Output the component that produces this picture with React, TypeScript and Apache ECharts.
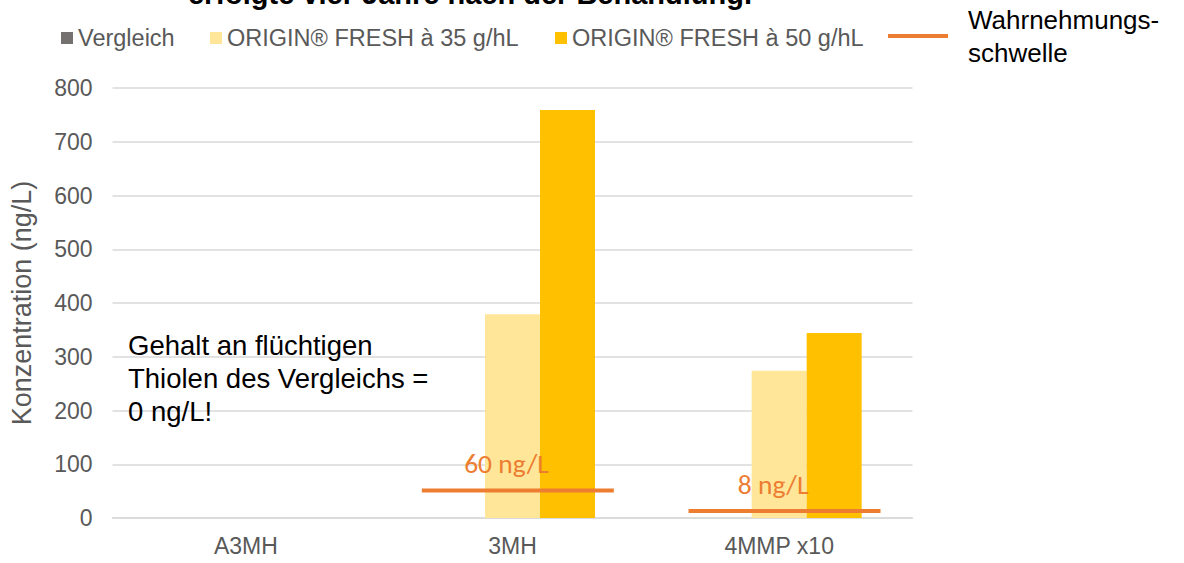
import React, { useEffect, useRef } from "react";
import * as echarts from "echarts";

const categories = ["A3MH", "3MH", "4MMP x10"];
const vergleich = [0, 0, 0];
const fresh35 = [0, 379, 274];
const fresh50 = [0, 759, 344];
const thresholdCats = [1, 2];
const thresholdValues = [51, 13];
const thresholdLabels = ["60 ng/L", "8 ng/L"];
const yTicks = { min: 0, max: 800, interval: 100 };

const ARIAL = 'Arial, "Liberation Sans", sans-serif';
const CALIBRI = 'Calibri, Carlito, "Open Sans", sans-serif';
const GREY = "#595959";

export default function App() {
  const ref = useRef<HTMLDivElement>(null);
  useEffect(() => {
    if (!ref.current) return;
    const chart = echarts.init(ref.current, undefined, { renderer: "svg" });
    const legendText = { color: GREY, fontSize: 23.5, fontFamily: ARIAL };
    const option: any = {
      animation: false,
      backgroundColor: "#ffffff",
      grid: { left: 112.5, right: 271.5, top: 88, bottom: 45, containLabel: false },
      legend: [
        {
          data: [{ name: "Vergleich", icon: "rect" }],
          left: 61, top: 26, padding: 0, itemWidth: 12, itemHeight: 12,
          textStyle: legendText, selectedMode: false,
        },
        {
          data: [{ name: "ORIGIN® FRESH à 35 g/hL", icon: "rect" }],
          left: 210, top: 26, padding: 0, itemWidth: 12, itemHeight: 12,
          textStyle: legendText, selectedMode: false,
        },
        {
          data: [{ name: "ORIGIN® FRESH à 50 g/hL", icon: "rect" }],
          left: 555, top: 26, padding: 0, itemWidth: 12, itemHeight: 12,
          textStyle: legendText, selectedMode: false,
        },
        {
          data: [{ name: "Wahrnehmungsschwelle", icon: "rect" }],
          left: 888, top: 3, padding: 0, itemWidth: 60, itemHeight: 4, itemGap: 0,
          formatter: () => "Wahrnehmungs-\nschwelle",
          textStyle: { color: "#000000", fontSize: 26, fontFamily: ARIAL, lineHeight: 33, padding: [0, 0, 0, 15] },
          selectedMode: false,
        },
      ],
      xAxis: {
        type: "category",
        data: categories,
        axisLine: { lineStyle: { color: "#D9D9D9", width: 1.5 } },
        axisTick: { show: false },
        axisLabel: { color: GREY, fontSize: 23, fontFamily: ARIAL, margin: 16 },
      },
      yAxis: {
        type: "value",
        min: yTicks.min,
        max: yTicks.max,
        interval: yTicks.interval,
        name: "Konzentration (ng/L)",
        nameLocation: "middle",
        nameGap: 77,
        nameTextStyle: { color: GREY, fontSize: 27, fontFamily: ARIAL },
        axisLine: { show: false },
        axisTick: { show: false },
        axisLabel: { color: GREY, fontSize: 23, fontFamily: ARIAL, margin: 20 },
        splitLine: { lineStyle: { color: "#D9D9D9", width: 1.5 } },
      },
      series: [
        {
          name: "Vergleich", type: "bar", data: vergleich, barWidth: 55, barGap: "0%",
          itemStyle: { color: "#767171" },
        },
        {
          name: "ORIGIN® FRESH à 35 g/hL", type: "bar", data: fresh35, barWidth: 55, barGap: "0%",
          itemStyle: { color: "#FFE699" },
        },
        {
          name: "ORIGIN® FRESH à 50 g/hL", type: "bar", data: fresh50, barWidth: 55, barGap: "0%",
          itemStyle: { color: "#FFC000" },
        },
        {
          name: "Wahrnehmungsschwelle",
          type: "custom",
          itemStyle: { color: "#ED7D31" },
          data: thresholdCats.map((c, i) => [c, thresholdValues[i]]),
          renderItem: (params: any, api: any) => {
            const pt = api.coord([api.value(0), api.value(1)]);
            const bw = api.size([1, 0])[0];
            return {
              type: "group",
              children: [
                {
                  type: "line",
                  shape: { x1: pt[0] - 0.34 * bw, y1: pt[1], x2: pt[0] + 0.38 * bw, y2: pt[1] },
                  style: { stroke: "#ED7D31", lineWidth: 4 },
                },
                {
                  type: "text",
                  x: pt[0] - 6,
                  y: pt[1] - 27,
                  style: {
                    text: thresholdLabels[params.dataIndex],
                    fill: "#ED7D31",
                    fontSize: 27.5,
                    fontFamily: CALIBRI,
                    align: "center",
                    verticalAlign: "middle",
                  },
                },
              ],
            };
          },
          z: 5,
        },
      ],
      graphic: [
        {
          type: "text",
          left: 128,
          top: 329,
          style: {
            text: "Gehalt an flüchtigen\nThiolen des Vergleichs =\n0 ng/L!",
            fill: "#000000",
            fontSize: 27.5,
            lineHeight: 33,
            fontFamily: ARIAL,
          },
          z: 10,
        },
        {
          type: "text",
          x: 470,
          y: 8.5,
          style: {
            text: "erfolgte vier Jahre nach der Behandlung.",
            fill: "#000000",
            fontSize: 29,
            fontWeight: "bold",
            fontFamily: ARIAL,
            align: "center",
            verticalAlign: "bottom",
          },
          z: 10,
        },
      ],
    };
    chart.setOption(option);
    return () => chart.dispose();
  }, []);
  return (
    <div
      ref={ref}
      style={{ position: "fixed", left: 0, top: 0, width: 1184, height: 563, background: "#fff" }}
    />
  );
}
